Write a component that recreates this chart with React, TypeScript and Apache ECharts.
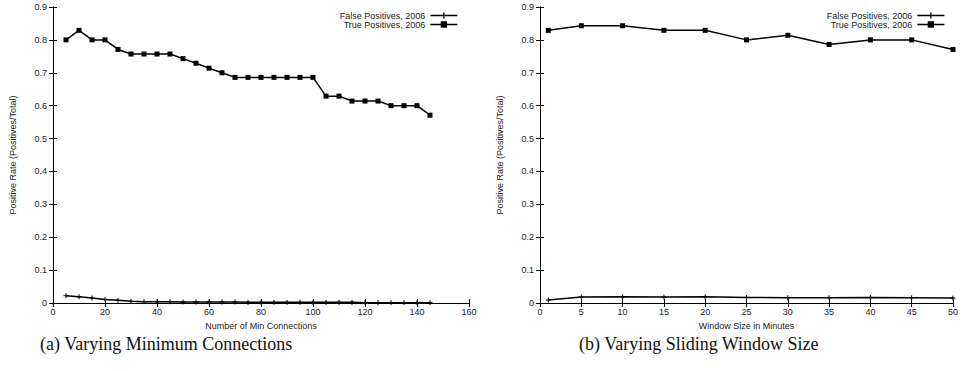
import React, { useEffect, useRef } from "react";
import * as echarts from "echarts";

const minConn = [5, 10, 15, 20, 25, 30, 35, 40, 45, 50, 55, 60, 65, 70, 75, 80, 85, 90, 95, 100, 105, 110, 115, 120, 125, 130, 135, 140, 145];
const tpConn = [0.8, 0.829, 0.8, 0.8, 0.771, 0.757, 0.757, 0.757, 0.757, 0.743, 0.729, 0.714, 0.7, 0.686, 0.686, 0.686, 0.686, 0.686, 0.686, 0.686, 0.629, 0.629, 0.614, 0.614, 0.614, 0.6, 0.6, 0.6, 0.571];
const fpConn = [0.022, 0.019, 0.015, 0.011, 0.008, 0.005, 0.004, 0.004, 0.004, 0.003, 0.003, 0.003, 0.003, 0.003, 0.002, 0.002, 0.002, 0.002, 0.002, 0.002, 0.002, 0.002, 0.002, 0.001, 0.001, 0.001, 0.001, 0.001, 0.001];

const winSize = [1, 5, 10, 15, 20, 25, 30, 35, 40, 45, 50];
const tpWin = [0.829, 0.843, 0.843, 0.829, 0.829, 0.8, 0.814, 0.786, 0.8, 0.8, 0.771];
const fpWin = [0.009, 0.018, 0.019, 0.018, 0.019, 0.017, 0.016, 0.016, 0.017, 0.016, 0.015];

const FP_NAME = "False Positives, 2006";
const TP_NAME = "True Positives, 2006";
const Y_TITLE = "Positive Rate (Positives/Total)";
const X_TITLE_A = "Number of Min Connections";
const X_TITLE_B = "Window Size in Minutes";
const CAPTION_A = "(a) Varying Minimum Connections";
const CAPTION_B = "(b) Varying Sliding Window Size";

const FONT = "Liberation Sans, Arial, sans-serif";
const PLUS = "path://M0,5L10,5M5,0L5,10";
const FP_ICON = "path://M0,4L27,4M13.5,1L13.5,7";
const TP_ICON = "path://M0,4L27,4M11,1.5L16,1.5L16,6.5L11,6.5Z";

export default function App() {
  const ref = useRef<HTMLDivElement>(null);
  useEffect(() => {
    document.body.style.margin = "0";
    const chart = echarts.init(ref.current!, null, { renderer: "svg" });
    const zip = (xs: number[], ys: number[]) => xs.map((x, i) => [x, ys[i]]);

    const axisCommon = {
      axisLine: { show: true, lineStyle: { color: "#000", width: 1 } },
      axisTick: { show: true, inside: true, length: 4, lineStyle: { color: "#000" } },
      splitLine: { show: false },
    };
    const labelStyle = { color: "#222", fontSize: 9, fontFamily: FONT };

    const xAxes: any[] = [];
    const yAxes: any[] = [];
    [
      { max: 160, interval: 20, name: X_TITLE_A },
      { max: 50, interval: 5, name: X_TITLE_B },
    ].forEach((a, gi) => {
      xAxes.push({
        type: "value", gridIndex: gi, min: 0, max: a.max, interval: a.interval,
        position: "bottom", ...axisCommon,
        axisLabel: { ...labelStyle, margin: 4 },
        name: a.name, nameLocation: "middle", nameGap: 18,
        nameTextStyle: { color: "#222", fontSize: 9, fontFamily: FONT },
      });
      xAxes.push({
        type: "value", gridIndex: gi, min: 0, max: a.max, interval: a.interval,
        position: "top", ...axisCommon, axisLabel: { show: false },
      });
      yAxes.push({
        type: "value", gridIndex: gi, min: 0, max: 0.9, interval: 0.1,
        position: "left", ...axisCommon,
        axisLabel: { ...labelStyle, margin: 6 },
        name: Y_TITLE, nameLocation: "middle", nameGap: 36,
        nameTextStyle: { color: "#222", fontSize: 9, fontFamily: FONT },
      });
      yAxes.push({
        type: "value", gridIndex: gi, min: 0, max: 0.9, interval: 0.1,
        position: "right", ...axisCommon, axisLabel: { show: false },
      });
    });

    const mk = (name: string, data: number[][], gi: number, tp: boolean) => ({
      type: "line", name, data, xAxisIndex: gi * 2, yAxisIndex: gi * 2,
      symbol: tp ? "rect" : PLUS, symbolSize: 5,
      showAllSymbol: true,
      lineStyle: { color: "#000", width: 1.5 },
      itemStyle: { color: "#000", borderColor: "#000", borderWidth: tp ? 0 : 1 },
      emphasis: { disabled: true },
    });

    const legendItem = (name: string, right: number, top: number) => ({
      orient: "vertical", right, top, align: "right",
      itemWidth: 27, itemHeight: 7, padding: 0,
      data: [{ name, icon: name === TP_NAME ? TP_ICON : FP_ICON }],
      itemStyle: { color: "#000", borderColor: "#000", borderWidth: 1.3 },
      textStyle: { color: "#222", fontSize: 9, fontFamily: FONT },
      selectedMode: false,
    });

    chart.setOption({
      animation: false,
      grid: [
        { left: 53, top: 7, width: 416, height: 296 },
        { left: 540, top: 7, width: 418, height: 296 },
      ],
      xAxis: xAxes,
      yAxis: yAxes,
      legend: [
        legendItem(FP_NAME, 503, 11),
        legendItem(TP_NAME, 503, 20),
        legendItem(FP_NAME, 16, 11),
        legendItem(TP_NAME, 16, 20),
      ],
      series: [
        mk(FP_NAME, zip(minConn, fpConn), 0, false),
        mk(TP_NAME, zip(minConn, tpConn), 0, true),
        mk(FP_NAME, zip(winSize, fpWin), 1, false),
        mk(TP_NAME, zip(winSize, tpWin), 1, true),
      ],
      graphic: [
        {
          type: "text", left: 40, top: 335,
          style: { text: CAPTION_A, fontSize: 18, fontFamily: "Liberation Serif, DejaVu Serif, serif", fill: "#111" },
        },
        {
          type: "text", left: 579, top: 335,
          style: { text: CAPTION_B, fontSize: 18, fontFamily: "Liberation Serif, DejaVu Serif, serif", fill: "#111" },
        },
      ],
    });
    return () => chart.dispose();
  }, []);
  return <div ref={ref} style={{ width: 961, height: 371 }} />;
}
